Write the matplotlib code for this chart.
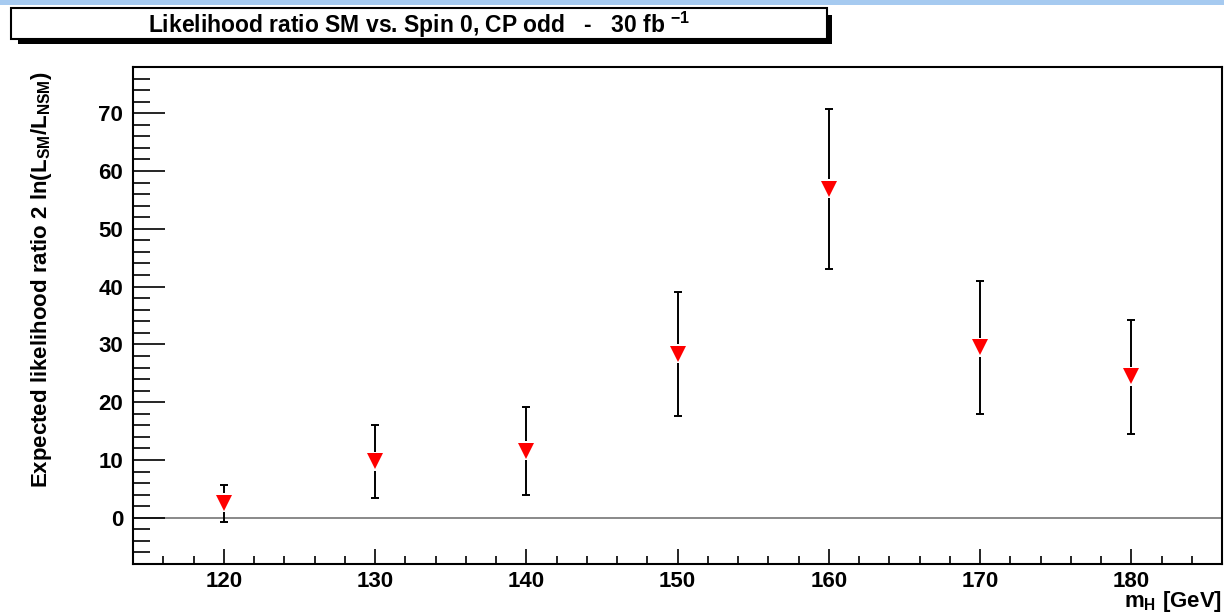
import matplotlib
matplotlib.use("Agg")
import matplotlib.pyplot as plt
from matplotlib.patches import Rectangle
from matplotlib.ticker import MultipleLocator

# ---- data ----
mass = [120, 130, 140, 150, 160, 170, 180]
llr = [2.6, 9.8, 11.6, 28.4, 56.9, 29.5, 24.5]
err_low = [3.3, 6.4, 7.6, 10.8, 13.8, 11.6, 10.0]
err_high = [3.1, 6.2, 7.5, 10.7, 13.8, 11.4, 9.8]
x_ticks = [120, 130, 140, 150, 160, 170, 180]
y_ticks = [0, 10, 20, 30, 40, 50, 60, 70]
title = r"Likelihood ratio SM vs. Spin 0, CP odd   -   30 fb $^{-1}$"
ylabel = r"Expected likelihood ratio 2 ln(L$_{SM}$/L$_{NSM}$)"
xlabel = r"m$_{H}$ [GeV]"

plt.rcParams['font.family'] = ['Liberation Sans', 'DejaVu Sans']
plt.rcParams['font.weight'] = 'bold'
plt.rcParams['mathtext.fontset'] = 'custom'
plt.rcParams['mathtext.rm'] = 'Liberation Sans:bold'
plt.rcParams['mathtext.bf'] = 'Liberation Sans:bold'
plt.rcParams['mathtext.it'] = 'Liberation Sans:bold'
plt.rcParams['mathtext.default'] = 'bf'

W, H = 1224, 615
fig = plt.figure(figsize=(W / 100, H / 100), dpi=100)
L, R, T, B = 133, 1222, 67, 564
ax = fig.add_axes([L / W, 1 - B / H, (R - L) / W, (B - T) / H])

ax.set_xlim(114, 186)
ax.set_ylim(-8, 78)

for s in ax.spines.values():
    s.set_linewidth(1.5)
    s.set_color('black')

ax.set_xticks(x_ticks)
ax.set_yticks(y_ticks)
ax.xaxis.set_minor_locator(MultipleLocator(2))
ax.yaxis.set_minor_locator(MultipleLocator(2))
ax.tick_params(axis='both', which='both', direction='in', width=1.2, color='black',
               top=False, right=False)
ax.tick_params(axis='x', which='major', length=11, labelsize=16, pad=5)
ax.tick_params(axis='x', which='minor', length=5.5)
ax.tick_params(axis='y', which='major', length=23, labelsize=16, pad=7)
ax.tick_params(axis='y', which='minor', length=12)
for lab in ax.get_xticklabels() + ax.get_yticklabels():
    lab.set_fontweight('bold')

ax.axhline(0, color='#808080', lw=1.3, zorder=1)

# error bars with gap around marker (ROOT style)
p0 = ax.transData.transform((0, 0))[1]
p1 = ax.transData.transform((0, 1))[1]
px_per_unit = p1 - p0
gap = 9.5 / px_per_unit
lo = [v - e for v, e in zip(llr, err_low)]
hi = [v + e for v, e in zip(llr, err_high)]
ax.vlines(mass, lo, [v - gap for v in llr], color='black', lw=1.4, zorder=2)
ax.vlines(mass, [v + gap for v in llr], hi, color='black', lw=1.4, zorder=2)
ax.plot(mass, lo, linestyle='none', marker='_', markersize=6, markeredgewidth=1.4,
        color='black', zorder=2)
ax.plot(mass, hi, linestyle='none', marker='_', markersize=6, markeredgewidth=1.4,
        color='black', zorder=2)
ax.plot(mass, llr, linestyle='none', marker='v', markersize=11.5, color='red',
        markeredgewidth=0, zorder=3)

# y label (ROOT style: aligned to top)
fig.text(42 / W, 1 - 72 / H, ylabel, rotation=90, ha='center', va='top',
         fontsize=16, fontweight='bold')
# x label at bottom right
fig.text(1222 / W, 1 - 614 / H, xlabel, ha='right', va='bottom',
         fontsize=16, fontweight='bold')

# top blue strip
fig.patches.append(Rectangle((0, 1 - 5 / H), 1, 5 / H, transform=fig.transFigure,
                             facecolor='#a6caf0', edgecolor='none', zorder=0))
# title box with shadow
fig.patches.append(Rectangle((18 / W, 1 - 44 / H), (832 - 18) / W, (44 - 15) / H,
                             transform=fig.transFigure, facecolor='black',
                             edgecolor='none', zorder=1))
fig.patches.append(Rectangle((11 / W, 1 - 39 / H), (827 - 11) / W, (39 - 8) / H,
                             transform=fig.transFigure, facecolor='white',
                             edgecolor='black', lw=1.5, zorder=2))
fig.text(419 / W, 1 - 25 / H, title, ha='center', va='center', fontsize=16.5,
         fontweight='bold', zorder=3)

fig.savefig("out.png", dpi=100)
